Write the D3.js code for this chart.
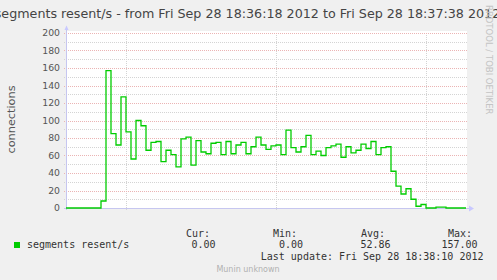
<!DOCTYPE html>
<html>
<head>
<meta charset="utf-8">
<script src="https://cdn.jsdelivr.net/npm/d3@7"></script>
<style>
  body { margin: 0; background: #f0f0f0; }
  svg { display: block; }
</style>
</head>
<body>
<div id="chart"></div>
<script>
// segments resent/s, one sample per second (Fri Sep 28 18:36:18 -> 18:37:38 2012)
var startTime = new Date(2012, 8, 28, 18, 36, 18);
var endTime = new Date(2012, 8, 28, 18, 37, 38);
var resentValues = [
  0, 0, 0, 0, 0, 0, 0, 8, 157, 85,
  72, 127, 87, 56, 100, 94, 66, 75, 76, 53,
  66, 61, 47, 79, 81, 49, 77, 64, 62, 74,
  75, 61, 76, 62, 72, 75, 62, 70, 81, 72,
  67, 71, 72, 61, 89, 69, 64, 70, 83, 61,
  65, 60, 69, 71, 73, 58, 70, 63, 66, 73,
  68, 76, 61, 69, 70, 42, 25, 16, 22, 10,
  2, 4, 0, 0, 1, 1, 0, 0, 0, 0
];
var yTicks = [0, 20, 40, 60, 80, 100, 120, 140, 160, 180, 200];
var statLabels = ["Cur:", "Min:", "Avg:", "Max:"];
var statValues = ["0.00", "0.00", "52.86", "157.00"];
var seriesName = "segments resent/s";
var titleText = "segments resent/s - from Fri Sep 28 18:36:18 2012 to Fri Sep 28 18:37:38 2012";
var lastUpdate = "Last update: Fri Sep 28 18:38:10 2012";

var W = 497, H = 280;
var margin = {top: 33, right: 31, bottom: 72, left: 66},
    width = W - margin.left - margin.right,
    height = H - margin.top - margin.bottom;

var svg = d3.select("#chart").append("svg")
    .attr("width", W)
    .attr("height", H);

svg.append("rect").attr("width", W).attr("height", H).attr("fill", "#f0f0f0");

var g = svg.append("g")
    .attr("transform", "translate(" + margin.left + "," + margin.top + ")");

// scales
var x = d3.scaleTime().domain([startTime, endTime]).range([0, width]);
var y = d3.scaleLinear().domain([0, 200]).range([height, 0]);

// white canvas
g.append("rect")
    .attr("x", 0).attr("y", -2)
    .attr("width", width + 1).attr("height", height + 2)
    .attr("fill", "#ffffff");

// minor horizontal grid (every 10)
var minor = d3.range(10, 200, 20);
g.append("g").selectAll("line").data(minor).enter().append("line")
    .attr("x1", -2).attr("x2", width + 1)
    .attr("y1", function(d) { return Math.round(y(d)) + 0.5; })
    .attr("y2", function(d) { return Math.round(y(d)) + 0.5; })
    .attr("stroke", "#d4d4d4")
    .attr("stroke-dasharray", "1,1");

// vertical grid every 30 seconds
var vticks = x.ticks(d3.timeSecond.every(30));
g.append("g").selectAll("line").data(vticks).enter().append("line")
    .attr("x1", function(d) { return Math.round(x(d)) + 0.5; })
    .attr("x2", function(d) { return Math.round(x(d)) + 0.5; })
    .attr("y1", 0).attr("y2", height + 2)
    .attr("stroke", "#d4d4d4")
    .attr("stroke-dasharray", "1,1");

// major horizontal grid
g.append("g").selectAll("line").data(yTicks.slice(1)).enter().append("line")
    .attr("x1", -2).attr("x2", width + 2)
    .attr("y1", function(d) { return Math.round(y(d)) + 0.5; })
    .attr("y2", function(d) { return Math.round(y(d)) + 0.5; })
    .attr("stroke", "#ebb4b4")
    .attr("stroke-dasharray", "1,1");

// y axis labels
var yAxis = g.append("g")
    .call(d3.axisLeft(y).tickValues(yTicks).tickSize(0).tickPadding(6));
yAxis.select(".domain").remove();
yAxis.selectAll("text")
    .attr("font-family", "DejaVu Sans")
    .attr("font-size", "9.3px")
    .attr("fill", "#555");

// data line
var pts = resentValues.map(function(v, i) {
  return {t: d3.timeSecond.offset(startTime, i), v: v};
});
pts.push({t: endTime, v: resentValues[resentValues.length - 1]});

var line = d3.line()
    .x(function(d) { return x(d.t); })
    .y(function(d) { return y(d.v); })
    .curve(d3.curveStepAfter);

// axes lines + arrows
var axisCol = "#c6c6f0";
g.append("line").attr("x1", 0.5).attr("x2", 0.5).attr("y1", -3).attr("y2", height + 2)
    .attr("stroke", axisCol);
g.append("line").attr("x1", -2).attr("x2", width + 4).attr("y1", height + 0.5).attr("y2", height + 0.5)
    .attr("stroke", axisCol);
g.append("path").attr("d", "M-1.5,-3 L2.5,-3 L0.5,-7.5 Z").attr("fill", "#c8c8ff");
g.append("path").attr("d", "M" + (width + 3) + ",-2.5 L" + (width + 3) + "," + "3.5 L" + (width + 8) + ",0.5 Z")
    .attr("transform", "translate(0," + height + ")")
    .attr("fill", "#c8c8ff");

g.append("path")
    .datum(pts)
    .attr("fill", "none")
    .attr("stroke", "#00cc00")
    .attr("stroke-width", 1.3)
    .attr("d", line);

// title
svg.append("text")
    .attr("x", W / 2 - 1)
    .attr("y", 18)
    .attr("text-anchor", "middle")
    .attr("font-family", "DejaVu Sans")
    .attr("font-size", "12.7px")
    .attr("fill", "#444")
    .text(titleText);

// y axis title
svg.append("text")
    .attr("transform", "translate(15," + (margin.top + height / 2 - 1) + ") rotate(-90)")
    .attr("text-anchor", "middle")
    .attr("font-family", "DejaVu Sans")
    .attr("font-size", "11.3px")
    .attr("fill", "#555")
    .text("connections");

// rrdtool watermark
svg.append("text")
    .attr("transform", "translate(486,5) rotate(90)")
    .attr("font-family", "DejaVu Sans")
    .attr("font-size", "8.5px")
    .attr("fill", "#c4c4c4")
    .text("RRDTOOL / TOBI OETIKER");

// legend
var mono = "DejaVu Sans Mono";
svg.append("rect").attr("x", 14).attr("y", 242).attr("width", 6).attr("height", 6)
    .attr("fill", "#00cc00");
svg.append("text").attr("x", 27).attr("y", 248)
    .attr("font-family", mono).attr("font-size", "10px").attr("fill", "#333")
    .text(seriesName);

var labelX = [186, 273, 361, 448];
var valueX = [215.5, 303, 390.5, 477.5];
svg.append("g").selectAll("text").data(statLabels).enter().append("text")
    .attr("x", function(d, i) { return labelX[i]; })
    .attr("y", 237)
    .attr("font-family", mono).attr("font-size", "10px").attr("fill", "#333")
    .text(function(d) { return d; });
svg.append("g").selectAll("text").data(statValues).enter().append("text")
    .attr("x", function(d, i) { return valueX[i]; })
    .attr("y", 248)
    .attr("text-anchor", "end")
    .attr("font-family", mono).attr("font-size", "10px").attr("fill", "#333")
    .text(function(d) { return d; });
svg.append("text").attr("x", 483.5).attr("y", 260)
    .attr("text-anchor", "end")
    .attr("font-family", mono).attr("font-size", "10px").attr("fill", "#333")
    .text(lastUpdate);

svg.append("text").attr("x", 248).attr("y", 272)
    .attr("text-anchor", "middle")
    .attr("font-family", "DejaVu Sans").attr("font-size", "8px").attr("fill", "#b0b0b0")
    .text("Munin unknown");
</script>
</body>
</html>
